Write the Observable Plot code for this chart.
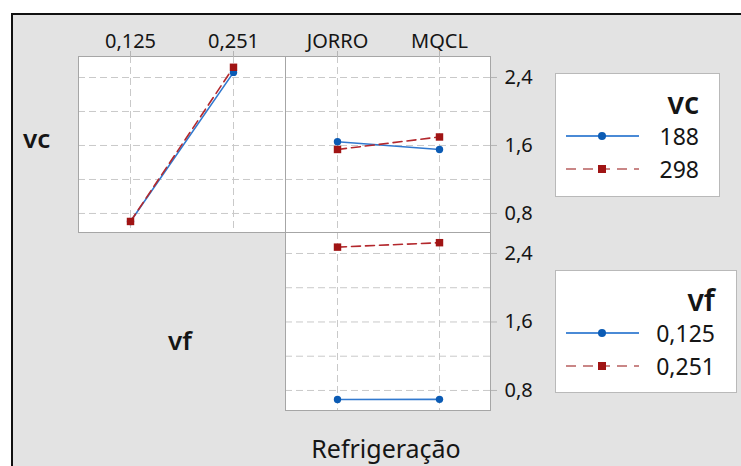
<!DOCTYPE html>
<html><head><meta charset="utf-8">
<script src="https://cdn.jsdelivr.net/npm/d3@7"></script>
<script src="https://cdn.jsdelivr.net/npm/@observablehq/plot@0.6"></script>
<style>
body{margin:0;background:#fff;}
#root{position:relative;width:741px;height:466px;overflow:hidden;font-family:"Noto Sans",sans-serif;background:#fff;color:#151515}
#frame{position:absolute;left:11px;top:13px;width:780px;height:500px;border:2px solid #111;background:#e3e3e3;box-sizing:border-box}
.abs{position:absolute}
.lbl{position:absolute;white-space:nowrap;line-height:1}
</style></head><body><div id="root"><div id="frame"></div></div>
<script>
// ---- data ----
const vfLevels = ["0,125", "0,251"];
const refrigLevels = ["JORRO", "MQCL"];
const vcLevels = ["188", "298"];
const vcByVf188 = [0.706, 2.46];
const vcByVf298 = [0.706, 2.52];
const vcByRefrig188 = [1.644, 1.553];
const vcByRefrig298 = [1.553, 1.70];
const vfByRefrig0125 = [0.694, 0.696];
const vfByRefrig0251 = [2.474, 2.526];
const yTicks = [0.8, 1.6, 2.4];
const yGrid = [0.8, 1.2, 1.6, 2.0, 2.4];

const FONT = '"Noto Sans", sans-serif';
const BLUE_LINE = "#3179cf", BLUE_PT = "#0b5bb4";
const RED_LINE = "#b3282d", RED_PT = "#a01414";
const root = document.getElementById("root");
const fmt = d => d.toFixed(1).replace(".", ",");

function panel({xDomain, s1, s2, left, top, w, h, topAxis, rightAxis, yDomain}) {
  const mt = topAxis ? 36 : 0, mr = rightAxis ? 60 : 0;
  const d1 = s1.map((v, i) => ({x: xDomain[i], y: v}));
  const d2 = s2.map((v, i) => ({x: xDomain[i], y: v}));
  const marks = [
    Plot.frame({fill: "white", stroke: "none"}),
    Plot.gridX({stroke: "#c9c9c9", strokeOpacity: 1, strokeDasharray: "7,4"}),
    Plot.gridY(yGrid, {stroke: "#c9c9c9", strokeOpacity: 1, strokeDasharray: "7,4"}),
    Plot.frame({stroke: "#a6a6a6"}),
    Plot.line(d1, {x: "x", y: "y", stroke: BLUE_LINE, strokeWidth: 1.6}),
    Plot.line(d2, {x: "x", y: "y", stroke: RED_LINE, strokeWidth: 1.6, strokeDasharray: "9,5"}),
    Plot.dot(d1, {x: "x", y: "y", r: 3.7, fill: BLUE_PT, symbol: "circle"}),
    Plot.dot(d2, {x: "x", y: "y", r: 4.2, fill: RED_PT, symbol: "square"})
  ];
  if (topAxis) {
    marks.push(Plot.axisX({anchor: "top", tickSize: 6, tickPadding: 3, stroke: "#b5b5b5", fill: "#151515", fontSize: 20, label: null}));
  }
  if (rightAxis) {
    marks.push(Plot.axisY(yTicks, {anchor: "right", tickSize: 6, tickPadding: 8, stroke: "#b5b5b5", fill: "#151515", fontSize: 20, tickFormat: fmt, label: null}));
  }
  const svg = Plot.plot({
    width: w + mr, height: h + mt,
    marginTop: mt, marginRight: mr, marginLeft: 0, marginBottom: 0,
    x: {type: "point", domain: xDomain, padding: 0.5, axis: null},
    y: {domain: yDomain, axis: null},
    style: {background: "transparent", overflow: "visible", fontFamily: FONT, fontSize: "20px", color: "#151515"},
    marks
  });
  svg.style.position = "absolute";
  svg.style.left = left + "px";
  svg.style.top = (top - mt) + "px";
  root.appendChild(svg);
}

panel({xDomain: vfLevels, s1: vcByVf188, s2: vcByVf298, left: 78, top: 56, w: 207, h: 176, topAxis: true, rightAxis: false, yDomain: [0.576, 2.647]});
panel({xDomain: refrigLevels, s1: vcByRefrig188, s2: vcByRefrig298, left: 285, top: 56, w: 205, h: 176, topAxis: true, rightAxis: true, yDomain: [0.576, 2.647]});
panel({xDomain: refrigLevels, s1: vfByRefrig0125, s2: vfByRefrig0251, left: 285, top: 232, w: 205, h: 178, topAxis: false, rightAxis: true, yDomain: [0.566, 2.645]});

function label(text, x, baseline, size, weight, anchor) {
  const svg = d3.create("svg").attr("width", 300).attr("height", 60)
    .style("position", "absolute").style("overflow", "visible")
    .style("left", "0px").style("top", "0px");
  svg.append("text").attr("x", x).attr("y", baseline).attr("text-anchor", anchor || "start")
    .attr("font-family", FONT).attr("font-size", size).attr("font-weight", weight || 400)
    .attr("fill", "#151515").text(text);
  root.appendChild(svg.node());
}
label("vc", 23, 148, 26, 600);
label("vf", 168, 350, 26, 600);
label("Refrigeração", 386, 458, 25, 400, "middle");

function legend(title, labels, left, top, w, h, textRight) {
  const box = d3.create("div").style("position", "absolute").style("left", left + "px").style("top", top + "px")
    .style("width", w + "px").style("height", h + "px").style("background", "#fff")
    .style("border", "1px solid #b9b9b9").style("box-sizing", "border-box");
  const svg = box.append("svg").attr("width", w).attr("height", h).style("position", "absolute").style("left", "-1px").style("top", "-1px");
  svg.append("text").attr("x", textRight).attr("y", 41).attr("text-anchor", "end")
    .attr("font-family", FONT).attr("font-size", 30).attr("font-weight", 600).attr("fill", "#151515").text(title);
  const ys = [63, 96];
  const styles = [
    {line: "#4a8ad6", pt: BLUE_PT, dash: null, sym: "circle"},
    {line: "#c98686", pt: RED_PT, dash: "10,7", sym: "square"}
  ];
  labels.forEach((lab, i) => {
    const s = styles[i];
    const ln = svg.append("line").attr("x1", 11).attr("x2", 84).attr("y1", ys[i]).attr("y2", ys[i])
      .attr("stroke", s.line).attr("stroke-width", 1.8);
    if (s.dash) ln.attr("stroke-dasharray", s.dash);
    if (s.sym === "circle") svg.append("circle").attr("cx", 47).attr("cy", ys[i]).attr("r", 4).attr("fill", s.pt);
    else svg.append("rect").attr("x", 43).attr("y", ys[i] - 4).attr("width", 8).attr("height", 8).attr("fill", s.pt);
    svg.append("text").attr("x", textRight).attr("y", ys[i] + 9).attr("text-anchor", "end")
      .attr("font-family", FONT).attr("font-size", 23).attr("fill", "#151515").text(lab);
  });
  root.appendChild(box.node());
}
legend("vc", vcLevels, 555, 73, 165, 124, 144);
legend("vf", vfLevels, 555, 270, 182, 123, 160);
</script></body></html>
